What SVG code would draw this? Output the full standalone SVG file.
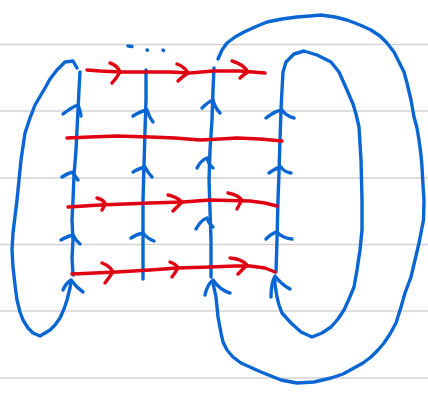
<svg xmlns="http://www.w3.org/2000/svg" width="428" height="398" viewBox="0 0 428 398">
<style>
.rule{stroke:#d2d2d2;stroke-width:1.6;fill:none}
.b{stroke:#0a66d2;stroke-width:3.4;fill:none;stroke-linecap:round;stroke-linejoin:round}
.r{stroke:#e00012;stroke-width:3.4;fill:none;stroke-linecap:round;stroke-linejoin:round}
</style>
<rect width="428" height="398" fill="#ffffff"/>
<g id="ruled-lines">
<line class="rule" x1="0" y1="44.5" x2="428" y2="44.5"/>
<line class="rule" x1="0" y1="111" x2="428" y2="111"/>
<line class="rule" x1="0" y1="178" x2="428" y2="178"/>
<line class="rule" x1="0" y1="244.5" x2="428" y2="244.5"/>
<line class="rule" x1="0" y1="311" x2="428" y2="311"/>
<line class="rule" x1="0" y1="378" x2="428" y2="378"/>
</g>
<g id="dots">
<path class="b" d="M128,46 L132,46.5"/>
<path class="b" d="M147,50 L147.5,50.2"/>
<path class="b" d="M163,50 L163.5,50.5"/>
</g>
<g id="connectors">
<g id="blue-curves">
<polyline id="outer-loop" class="b" points="218,59 222,50 227,43 235,37 244,32 255,27 267,22 282,19 297,17 310,16 321,15 335,17 347,20 360,25 371,30 380,36 387,43 394,52 399,62 404,72 407,83 411,100 414,117 417,128 419,140 421,155 422,167 423,185 424,200 423.5,220 419,243 415,260 411,277 405,293 401,307 396,323 390,334 384,343 378,350 371,357 363,363 354,368 343,374 331,378 314,382 297,383 281,380 261,372 241,363 233,357 227,350 223,342 221,333 218,317 216,297 213,283"/>
<polyline id="inner-loop" class="b" points="276,272 277,240 278,200 279,173 280,140 281,110 282,90 283,72 286,62 294,54 304,51 317,55 331,62 339,72 347,90 353,104 356,114 359,127 361,160 362,200 362,230 360,250 357,270 354,287 349,299 344,310 338,319 331,327 322,333 312,337 301,332 291,323 282,313 279,305 277,297 275,285 275,279"/>
<polyline id="left-loop" class="b" points="77,68 73,61 65,62 57,70 50,79 45,88 35,105 30,118 25,133 21,160 17,200 13,233 12,250 13,267 15,285 17,300 20,312 23,320 28,328 33,333 40,336 50,330 55,325 60,318 64,309 67,300 70,288 71,281"/>
<polyline id="col1" class="b" points="80,72 79,90 78,110 77,130 76,150 74,175 73,200 72,220 73,240 72,258 73,275"/>
<polyline id="col2" class="b" points="146,70 146,100 145,130 144,165 143,200 143,240 143,279"/>
<polyline id="col3" class="b" points="214,68 213,90 212,120 210,150 209,180 210,210 211,240 211,277"/>
</g>
<g id="blue-arrows">
<path class="b" d="M63,114 Q72,107 78,105 Q80,110 81,116"/>
<path class="b" d="M62,177 Q68,173 73,172 Q75,177 78,180"/>
<path class="b" d="M61,240 Q68,236 73,235 Q76,241 80,244"/>
<path class="b" d="M63,290 Q66,283 71,280 Q76,287 83,292"/>
<path class="b" d="M133,116 Q141,111 147,110 Q149,117 153,122"/>
<path class="b" d="M133,172 Q140,168 145,167 Q148,173 152,177"/>
<path class="b" d="M131,238 Q137,234 143,233 Q148,239 154,241"/>
<path class="b" d="M202,108 Q208,102 213,100 Q215,108 220,113"/>
<path class="b" d="M197,168 Q201,160 207,158 Q209,165 213,168"/>
<path class="b" d="M196,229 Q201,220 207,218 Q209,224 213,227"/>
<path class="b" d="M205,295 Q207,285 213,280 Q220,290 230,293"/>
<path class="b" d="M266,118 Q275,111 282,110 Q286,116 294,118"/>
<path class="b" d="M269,173 Q276,168 281,167 Q284,172 291,173"/>
<path class="b" d="M266,239 Q272,233 277,232 Q282,238 292,239"/>
<path class="b" d="M271,297 Q271,283 275,276 Q282,285 290,289"/>
</g>
<g id="red-lines">
<polyline class="r" points="87,70 100,71 120,72 145,72 170,72 190,73 213,71 240,71 265,73"/>
<polyline class="r" points="67,138 90,137 117,136 150,137 175,138 200,140 220,139 237,138 260,139 282,141"/>
<polyline class="r" points="68,207 100,205 125,204 150,203 183,202 210,200 250,201 265,203 277,206"/>
<polyline class="r" points="72,274 95,273 117,272 150,270 177,268 210,267 235,266 250,266 265,268 275,272"/>
</g>
<g id="red-arrows">
<path class="r" d="M110,63 Q117,65 120,72 Q116,79 112,83"/>
<path class="r" d="M177,64 Q185,67 188,73 Q182,77 178,81"/>
<path class="r" d="M232,61 Q243,64 248,72 Q243,75 240,78"/>
<path class="r" d="M97,198 Q102,199 105,203 Q104,207 102,210"/>
<path class="r" d="M168,195 Q177,197 182,202 Q177,207 173,211"/>
<path class="r" d="M228,193 Q238,195 242,200 Q239,205 237,209"/>
<path class="r" d="M102,263 Q110,266 113,272 Q108,279 105,283"/>
<path class="r" d="M170,262 Q176,264 178,268 Q175,273 172,277"/>
<path class="r" d="M230,258 Q242,259 247,265 Q242,270 238,274"/>
</g>
</g>
</svg>
